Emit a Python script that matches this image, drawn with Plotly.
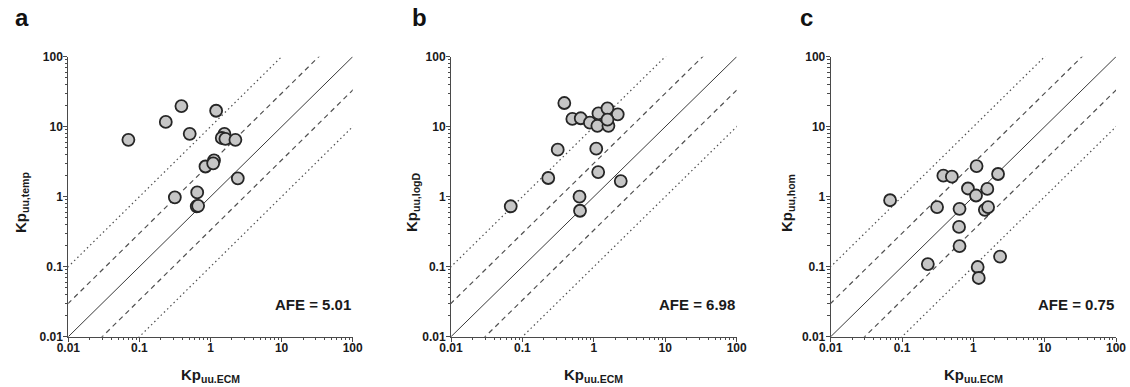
import plotly.graph_objects as go

# Observed (ECM) vs. predicted unbound partition coefficients, one array per method
ecm_a = [0.070, 0.235, 0.39, 1.20, 0.51, 1.57, 1.44, 1.62, 2.24, 0.85, 1.12, 1.09, 2.42, 0.65, 0.315, 0.64, 0.67]
kp_temp = [6.5, 11.7, 19.7, 16.9, 7.9, 7.9, 6.9, 6.7, 6.5, 2.7, 3.3, 3.0, 1.83, 1.15, 0.98, 0.73, 0.74]

ecm_b = [0.386, 0.50, 0.655, 0.88, 1.16, 1.55, 2.16, 1.12, 1.60, 1.55, 0.312, 1.08, 0.23, 1.15, 2.38, 0.63, 0.64, 0.0686]
kp_logd = [21.8, 12.9, 13.2, 11.4, 15.5, 18.3, 15.0, 10.3, 10.3, 12.6, 4.7, 4.85, 1.85, 2.25, 1.67, 1.0, 0.63, 0.73]

ecm_c = [0.068, 0.38, 0.50, 1.11, 2.22, 0.84, 1.09, 1.57, 0.31, 0.64, 1.45, 1.61, 0.63, 0.64, 0.23, 2.37, 1.15, 1.19]
kp_hom = [0.89, 2.0, 1.93, 2.74, 2.11, 1.31, 1.04, 1.29, 0.71, 0.67, 0.65, 0.71, 0.37, 0.197, 0.109, 0.139, 0.099, 0.069]

afe_values = [5.01, 6.98, 0.75]
panel_letters = ["a", "b", "c"]
y_titles = ["Kp<sub>uu,temp</sub>", "Kp<sub>uu,logD</sub>", "Kp<sub>uu,hom</sub>"]
x_title = "Kp<sub>uu.ECM</sub>"

# Fold-error reference lines: unity, 3-fold and 10-fold
fold_factors = [1, 3, 1 / 3, 10, 1 / 10]
fold_dash = ["solid", "5px,4px", "5px,4px", "1.5px,3px", "1.5px,3px"]
line_span = [0.001, 1000]

tick_vals = [0.01, 0.1, 1, 10, 100]
tick_text = ["0.01", "0.1", "1", "10", "100"]
minor_vals = [m * 10 ** e for e in range(-2, 2) for m in range(2, 10)]

W, H = 1130, 387
# plot-area pixel boxes (left, right) with shared top/bottom
x_px = [(68.3, 352.7), (451.0, 736.7), (830.7, 1116.0)]
y_top_px, y_bot_px = 56.7, 336.7
ytitle_x_px = [21, 412, 787]
letter_x_px = [22, 419, 806]

FONT = "Liberation Sans, Arial, sans-serif"
AX_COLOR = "#4a4a4a"
TXT = "#1a1a1a"

series = [(ecm_a, kp_temp), (ecm_b, kp_logd), (ecm_c, kp_hom)]

fig = go.Figure()
annotations = []
for i, (xs, ys) in enumerate(series):
    n = "" if i == 0 else str(i + 1)
    xa, ya = "x" + n, "y" + n
    for f, d in zip(fold_factors, fold_dash):
        fig.add_trace(go.Scatter(
            x=line_span, y=[v * f for v in line_span], mode="lines",
            line=dict(color="#3a3a3a" if f == 1 else "#505050",
                      width=1 if f == 1 else 1.2, dash=d),
            xaxis=xa, yaxis=ya, showlegend=False, hoverinfo="skip"))
    fig.add_trace(go.Scatter(
        x=xs, y=ys, mode="markers",
        marker=dict(size=12, color="#c6c6c6", line=dict(color="#262626", width=1.8)),
        xaxis=xa, yaxis=ya, showlegend=False))

    axis_common = dict(
        type="log", range=[-2, 2], tickmode="array", tickvals=tick_vals, ticktext=tick_text,
        ticks="outside", ticklen=4, tickwidth=1, tickcolor=AX_COLOR, automargin=False,
        showline=True, linecolor=AX_COLOR, linewidth=1, showgrid=False, zeroline=False,
        tickfont=dict(family=FONT, size=12, color=TXT, weight="bold"),
        minor=dict(tickmode="array", tickvals=minor_vals, ticks="outside", ticklen=2.5,
                   tickwidth=1, tickcolor=AX_COLOR, showgrid=False),
    )
    x0, x1 = x_px[i]
    fig.layout["xaxis" + n] = dict(axis_common, domain=[x0 / W, x1 / W], anchor=ya,
                                   ticklabelstandoff=-4)
    fig.layout["yaxis" + n] = dict(axis_common, domain=[1 - y_bot_px / H, 1 - y_top_px / H],
                                   anchor=xa, ticklabelstandoff=-2)

    # AFE label in the lower right of each panel
    annotations.append(dict(
        text=f"AFE = {afe_values[i]:.2f}", xref="paper", yref="paper",
        x=x1 / W, y=1 - 304 / H, xanchor="right", yanchor="middle", showarrow=False,
        font=dict(family=FONT, size=15, color=TXT, weight="bold")))
    # axis titles
    annotations.append(dict(
        text=x_title, xref="paper", yref="paper", x=(x0 + x1) / 2 / W, y=1 - 375 / H,
        xanchor="center", yanchor="middle", showarrow=False,
        font=dict(family=FONT, size=15, color=TXT, weight="bold")))
    annotations.append(dict(
        text=y_titles[i], xref="paper", yref="paper", x=ytitle_x_px[i] / W, y=1 - 203 / H,
        xanchor="center", yanchor="middle", textangle=-90, showarrow=False,
        font=dict(family=FONT, size=15, color=TXT, weight="bold")))
    # panel letter
    annotations.append(dict(
        text=panel_letters[i], xref="paper", yref="paper", x=letter_x_px[i] / W, y=1 - 18 / H,
        xanchor="center", yanchor="middle", showarrow=False,
        font=dict(family=FONT, size=24, color="#111111", weight="bold")))

fig.update_layout(
    width=W, height=H, margin=dict(l=0, r=0, t=0, b=0),
    paper_bgcolor="white", plot_bgcolor="white",
    annotations=annotations, showlegend=False,
)

fig.write_html("out.html")
